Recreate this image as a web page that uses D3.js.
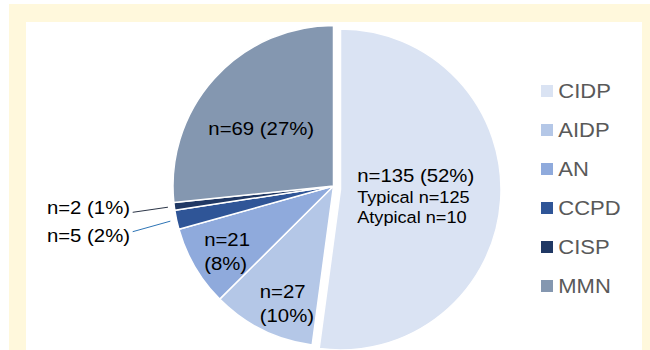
<!DOCTYPE html>
<html><head><meta charset="utf-8">
<script src="https://cdn.jsdelivr.net/npm/d3@7"></script>
<style>
html,body{margin:0;padding:0;background:#fff;}
svg{display:block;font-family:"Liberation Sans",Arial,sans-serif;}
</style>
</head><body>
<svg id="chart" width="650" height="350"></svg>
<script>
// ---- data ----
const categories = ["CIDP", "AIDP", "AN", "CCPD", "CISP", "MMN"];
const counts = [135, 27, 21, 5, 2, 69];
const percentLabels = ["52%", "10%", "8%", "2%", "1%", "27%"];
const subtypeLabels = ["Typical n=125", "Atypical n=10"]; // CIDP breakdown
const colors = ["#DAE3F3", "#B4C7E7", "#8FAADC", "#2F5597", "#203864", "#8497B0"];

// ---- layout / style ----
const W = 650, H = 350;
const cx = 333.5, cy = 186, R = 160.5;
const explode = {CIDP: [7, 3.5]};
const stretch = 1.1;                 // horizontal text stretch of the original
const labelFont = 18.5, subFont = 16.5;
// inside labels: radius fraction + angle nudge (degrees); lines: "one" = single line, "two" = n / (pct)
const labelStyle = {
  CIDP: {k: 0.471, da: 1.7, mode: "one", sub: true},
  AIDP: {k: 0.788, da: -4.8, mode: "two"},
  AN:   {k: 0.778, da: -1.3, mode: "two"},
  MMN:  {k: 0.577, da: -3.35, mode: "one"},
  CCPD: {outside: true, textX: 130, textY: 242.3, endX: 132.7, endY: 231.7, line: "#2E75B6"},
  CISP: {outside: true, textX: 130, textY: 214.3, endX: 132.7, endY: 212.3, line: "#2B3547"}
};

const svg = d3.select("#chart");

// background frame
svg.append("rect").attr("x", 9).attr("y", 4).attr("width", W - 9).attr("height", H - 4).attr("fill", "#FFF8DC");
svg.append("rect").attr("x", 26).attr("y", 22).attr("width", 642 - 26).attr("height", H - 22).attr("fill", "#FFFFFF");

const data = categories.map((c, i) => ({cat: c, value: counts[i], pct: percentLabels[i], color: colors[i]}));
const pie = d3.pie().value(d => d.value).sort(null).startAngle(0).endAngle(2 * Math.PI);
const arcs = pie(data);
const arc = d3.arc().innerRadius(0).outerRadius(R);

const g = svg.append("g").attr("transform", `translate(${cx},${cy})`);

g.selectAll("path.slice").data(arcs).enter().append("path")
  .attr("class", "slice")
  .attr("d", arc)
  .attr("fill", d => d.data.color)
  .attr("stroke", "#fff")
  .attr("stroke-width", 1.5)
  .attr("stroke-linejoin", "round")
  .attr("transform", d => {
    const e = explode[d.data.cat];
    return e ? `translate(${e[0]},${e[1]})` : null;
  });

// approximate text width using a canvas measure
const ctx = document.createElement("canvas").getContext("2d");
function tw(text, size) {
  ctx.font = `${size}px "Liberation Sans", Arial, sans-serif`;
  return ctx.measureText(text).width * stretch;
}

function polar(a, r) { return [Math.sin(a) * r, -Math.cos(a) * r]; }

const labelG = svg.append("g");

arcs.forEach(d => {
  const cat = d.data.cat;
  const st = labelStyle[cat];
  const mid = (d.startAngle + d.endAngle) / 2;
  const e = explode[cat] || [0, 0];
  const ox = cx + e[0], oy = cy + e[1];
  const nTxt = `n=${d.data.value}`;
  const pTxt = `(${d.data.pct})`;

  if (st.outside) {
    const p0 = polar(mid, R * 1.04);
    labelG.append("line")
      .attr("x1", ox + p0[0]).attr("y1", oy + p0[1])
      .attr("x2", st.endX).attr("y2", st.endY)
      .attr("stroke", st.line).attr("stroke-width", 1);
    labelG.append("text")
      .attr("transform", `translate(${st.textX},${st.textY}) scale(${stretch},1)`)
      .attr("text-anchor", "end")
      .attr("font-size", labelFont)
      .attr("fill", "#000")
      .text(`${nTxt} ${pTxt}`);
    return;
  }

  const a = mid + st.da * Math.PI / 180;
  const p = polar(a, R * st.k);
  const ax = ox + p[0], ay = oy + p[1];

  let lines;
  if (st.mode === "one") {
    lines = [{t: `${nTxt} ${pTxt}`, s: labelFont, lh: st.sub ? 20.8 : 23.5}];
    if (st.sub) subtypeLabels.forEach(t => lines.push({t, s: subFont, lh: 20.8}));
  } else {
    lines = [{t: nTxt, s: labelFont, lh: 23.5}, {t: pTxt, s: labelFont, lh: 23.5}];
  }
  const totalH = d3.sum(lines, l => l.lh);
  const blockW = d3.max(lines, l => tw(l.t, l.s));
  const left = ax - blockW / 2;
  let y = ay - totalH / 2 + lines[0].lh * 0.78;
  lines.forEach((l, i) => {
    if (i > 0) y += l.lh;
    labelG.append("text")
      .attr("transform", `translate(${left},${y}) scale(${stretch},1)`)
      .attr("font-size", l.s)
      .attr("fill", "#000")
      .text(l.t);
  });
});

// legend
const legend = svg.append("g").attr("transform", "translate(541,85)");
const li = legend.selectAll("g").data(data).enter().append("g")
  .attr("transform", (d, i) => `translate(0,${i * 39})`);
li.append("rect").attr("width", 12).attr("height", 12).attr("fill", d => d.color);
li.append("text")
  .attr("transform", `translate(17.3,12.7) scale(${stretch},1)`)
  .attr("font-size", 20)
  .attr("fill", "#595959")
  .text(d => d.cat);
</script>
</body></html>
